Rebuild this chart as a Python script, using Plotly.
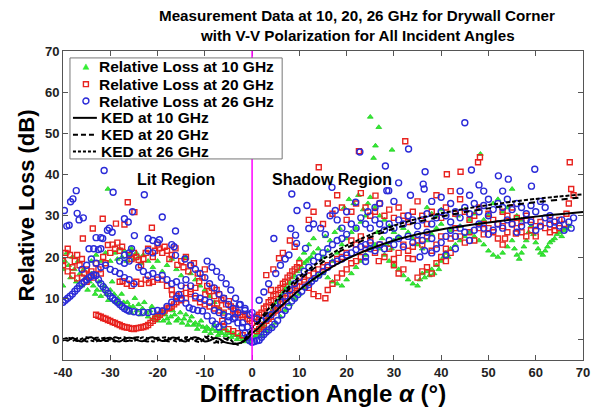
import plotly.graph_objects as go

# ---------------- data ----------------
pts10 = [
    # lit region, 10 GHz
    (-40,13),(-40,17),(-39.6,19),(-39.2,21),(-38.8,18),(-38.4,15),(-38,20),(-37.6,17),(-37.2,14),(-36.8,19),
    (-36.4,16),(-36,13),(-35.6,17),(-35.2,15),(-34.8,12),(-34.4,14),(-34,16),(-33.6,13),(-33.2,11),(-32.8,12),
    (-32.4,14),(-32,10.5),(-31.6,12),(-31.2,13),(-30.8,11),(-30.4,9.5),(-30,12),(-29.6,14),(-29.2,11),(-28.8,9),
    (-28.4,10),(-28,8.5),(-27.6,11),(-27.2,9),(-26.8,7.5),(-26.4,9),(-26,8),(-25.6,6.5),(-25.2,8),(-24.8,10),
    (-24.4,7),(-24,8.5),(-23.6,6),(-23.2,7.5),(-22.8,9),(-22.4,6.5),(-22,5.5),(-21.6,7),(-21.2,8),(-20.8,5),
    (-20.4,6),(-20,4.5),(-19.6,5.5),(-19.2,7),(-18.8,4.5),(-18.4,6),(-18,5),(-17.6,4),(-17.2,5.5),(-16.8,7),
    (-16.4,6),(-16,4.5),(-15.6,5),(-15.2,6.5),(-14.8,4),(-14.4,5),(-14,6),(-13.6,3.5),(-13.2,4.5),(-12.8,5.5),
    (-12.4,3.5),(-12,4),(-11.6,2.5),(-11.2,3.5),(-10.8,4.5),(-10.4,3),(-10,2),(-9.6,3),(-9.2,2.5),(-8.8,1.5),
    (-8.4,2.5),(-8,3.5),(-7.6,2),(-7.2,1),(-6.8,2),(-6.4,1.5),(-6,2.5),(-5.6,1),(-5.2,2),(-4.8,1.5),
    (-4.4,0.5),(-4,1.5),(-3.6,1),(-3.2,0),(-2.8,1),(-2.4,0.5),(-2,0),(-1.6,-0.5),(-1.2,0.5),(-0.8,0),(-0.4,-0.5),
    (-30,19),(-29,21),(-28.5,19.5),(-28,22),(-27.5,20),(-27,21.5),(-26.5,19),(-26,20.5),(-25.5,22),(-25,19.5),
    (-24.5,21),(-24,20),(-23.5,18.5),(-23,20.5),(-22,19),(-21,17.5),(-20,19),(-19,16.5),(-18,18),(-17,19.5),
    (-16,17),(-15,15.5),(-14,20),(-13,16),(-12,14.5),(-11,13),(-10,12),(-9,10.5),(-8,9),(-7,7.5),(-6,6.5),
    (-34,19),(-33,20.5),(-32,19),(-31,21),(-30.5,36.5),
    # shadow region, 10 GHz
    (0.4,0.5),(0.8,1),(1.2,1.5),(1.6,2.5),(2,3),(2.4,3.5),(2.8,4.5),(3.2,5),(3.6,6),(4,6.5),
    (4.4,7.5),(4.8,8),(5.2,9),(5.6,9.5),(6,10.5),(6.4,11),(6.8,12),(7.2,12.5),(7.6,13.5),(8,14),
    (8.5,15),(9,15.5),(9.5,16.5),(10,17),(10.5,17.5),(11,18.5),(11.5,19),(12,19.5),(12.5,20),(13,21),
    (2,1),(3,2),(4,3),(5,4),(6,5.5),(7,7),(8,8.5),(9,10),(10,11),(11,12.5),(12,13.5),(13,14.5),
    (14,15.5),(15,16),(16,15),(17,14),(18,13.5),(19,13),(20,14.5),(21,16),(22,17.5),(23,19),(24,20.5),(25,22),
    (14,22),(15,20),(16,21.5),(17,19),(18,21),(19,23),(20,24.5),(21,26),(22,27),(23,28.5),(24,30),
    (19.5,32),(20.5,34),(21.5,33),(22.5,35),(23.5,31.5),(24.5,33),(25,34.5),(26,32),(27,30),(28,29),(29,27.5),(30,26),
    (25,54),(26.8,51.5),(26.1,47),(29.6,46),(25.7,44),
    (26,23),(27,22),(28,20.5),(29,19),(30,18),(31,17),(32,15.5),(33,14.5),(34,13.5),(35,13),(35.5,14.5),
    (36,16),(36.5,15),(37,16.5),(37.5,15.5),(38,17),(38.5,16),(39,18),(39.5,17),(40,19),(40.5,20),(41,21),
    (41.5,20),(42,22),(43,23),(44,24),(45,25),(46,26),(47,25),(48,24),(49,23),(50,21.5),(51,20.5),(52,20),
    (53,21),(54,22.5),(55,24),(55.5,22),(56,20.5),(56.5,19.5),(57,21),(57.5,22.5),(58,24),(58.5,26),(59,27.5),
    (59.5,25.5),(60,23.5),(60.5,22),(61,21),(61.5,20.5),(62,21.5),(62.5,22.5),(63,23.5),(63.5,24),(64,24.5),
    (64.5,25.5),(65,26),(65.5,25),(66,26.5),(66.5,27),(67,27.5),
    (30,24),(31,25),(32,27),(33,26),(34,24.5),(35,23),(36,22),(37,24),(38,25.5),(39,27),(40,28),(42,26.5),
    (44,27.5),(46,29),(48,28),(50,30),(51,33),(52,34),(53,31),(54,32),(55,36.5),(56,30),(57,29),(43.5,30),
    (45,31.5),(47,30.5),(49,29),(26.5,26),(27.5,24.5),(28.5,23),(29.5,22),(15.5,25),(16.5,24),(17.5,26),
    (18.5,27),(12,23),(13,24.5),(11,21),(10,19.5),(37,32),(38,30.5),(39,30),(40,31.5),(48.3,45),
]

pts20 = [
    # lit region, 20 GHz
    (-40,19),(-39.5,21),(-39,22),(-38.5,20.5),(-38,17.5),(-37.5,19),(-37,20.5),(-36.5,18),(-36,19.5),(-35.5,16),
    (-35.8,24.5),(-35,17),(-34.5,15.5),(-34,16.5),(-33.7,26.9),(-33.5,15),(-33,18.5),(-32.5,17),(-32,16),(-31.6,29.3),
    (-31.5,20),(-31,18.5),(-30.5,22.9),(-30,21),(-29.5,23),(-29,22),(-28.8,28.1),(-28.5,23.5),(-28,21.5),(-27.5,22.5),
    (-27,27.9),(-26.3,33.3),(-26,20.5),(-25.5,19.5),(-25,21),(-24.9,30.9),(-24.5,20),(-24,19.3),(-23.5,18),(-23,19.5),
    (-22.5,21),(-22,22),(-21.2,27.1),(-21,20),(-20.5,21.5),(-20,23),(-19.7,22.1),(-19,21),(-18.5,22.5),(-18,21.5),
    (-17.5,19.5),(-17,20.5),(-16.2,22.1),(-15.8,18.1),(-15,19),(-14.5,17.5),(-14,20),(-13.5,16.5),(-13,18),(-12.3,18.5),
    (-11.5,16),(-11.2,14.1),(-10.5,15),(-10,17),(-9.5,13),(-9.1,11.7),(-8.5,12.5),(-8,10.5),(-7.5,12),(-7,11),
    (-6.5,9.5),(-6,10),(-5.5,8.5),(-4.9,9.3),(-4.5,8),(-4,7),(-3.5,7.5),(-3,6.5),(-2.5,6),(-2,5.5),
    (-1.5,6),(-1,5),(-0.5,4.5),(0,4),
    (-28,14),(-27.4,14.1),(-26.5,13.5),(-25.5,13),(-24.5,14),(-23.5,13.5),(-22.5,14.5),(-21.8,13.7),(-21,14),(-20,14.5),
    (-19,14.5),(-18,13),(-17,12),(-16.9,10.9),(-16,10.5),(-15,11),(-14,12.5),(-13,11.5),(-12,10),(-11,9),
    (-10,8.5),(-9,8),(-8,7.5),(-7,7),(-6,6.5),(-12,12.5),(-9.9,10.9),(-7.4,8.7),(-6.3,4.5),(-3.6,6.1),
    (-6,3),(-5,2.5),(-4,2),(-3,1.5),(-2,1),(-1,0.5),
    (-33,6),(-32.5,5.7),(-32,5.5),(-31.5,5.2),(-31,5),(-30.5,4.7),(-30,4.5),(-29.5,4.2),(-29,4),(-28.5,3.7),
    (-28,3.5),(-27.5,3.2),(-27,3),(-26.5,2.9),(-26,2.8),(-25.5,2.6),(-25,2.5),(-24.5,2.7),(-24,2.8),(-23.5,2.9),
    (-23,3),(-22.5,3.2),(-22,3.5),(-21.5,4),(-21,4.5),(-20.5,5),(-20,5.5),(-19.5,6),(-19,6.5),(-18.5,7),
    (-18,7.5),(-17.5,7.7),(-17,8),(-16.5,8.5),(-16,9),(-15,9.5),(-14,10),(-13,11),
    (-40,18),(-39,16.5),(-38,15.5),(-37,14.8),(-36,15),(-35,14),
    # shadow region, 20 GHz
    (0.5,5),(1,5.5),(1.5,6),(2,6.5),(2.5,7.5),(3,8),(3.5,9),(4,9.5),(4.5,10.5),(5,11),
    (5.5,12),(6,12.5),(6.5,13.5),(7,14),(7.5,15),(8,15.5),(8.5,16.5),(9,17),(9.5,17.5),(10,18.5),
    (1,2),(1.5,2.5),(2,3),(2.5,3.5),(3,4.5),(3.5,5),(4,5.5),(4.5,6.5),(5,7),(5.5,7.5),
    (6,8.5),(6.5,9),(7,10),(7.5,10.5),(8,11),(8.5,12),(9,12.5),(9.5,13),(10,14),(11,14.5),
    (12,15.5),(13,16),(14,17),(15,17.5),(16,18),(17,18.5),(18,19.5),(19,20),(20,21),
    (3,15.6),(4,12),(5.7,19.7),(4.5,17),(6.5,21),(8,24),(9,22.5),(11,14),(12,12.5),(13,11),
    (14,10.5),(15.5,10),(16,12),(17,13.5),(18,15),(19,16),(20,17),(21,18.5),(22,19),(23,20),
    (14.1,41.8),(22.6,45.7),(32.4,48.1),(48.2,44.2),(47.8,43),(41.2,40.1),(44.1,40.7),(67.2,43),(26.1,34.9),
    (12,29),(13,31),(15,28),(16,33),(17,30.5),(18,35),(19,32),(20,29),(21,31),(22,33),
    (23,35.5),(24,32),(25,30),(26,31),(27,33),(28,30),(29,31.5),(30,29.5),(31,32),(32,30),
    (33,28.5),(34,31),(35,33.5),(36,30),(37,28),(38,31),(39,35),(40,29.5),(41,32),(42,36),
    (43,30.5),(44,34),(45,31),(46,29),(47,30),(48,32),(49,28),(50,30.5),(51,29),(52,28),
    (53,31),(54,30),(55,32),(56,29.5),(57,28.5),(58,30),(59,29),(60,27.5),(61,28.5),(62,27),
    (63,29),(64,26.5),(65,27),(66,28),(67,33),(68,35),(67.5,36.5),(66.5,30.5),
    (21,24),(22,23),(23,25),(24,22),(25,24),(26,21),(27,23),(28,20),(29,22),(30,19.5),
    (31,21),(32,23),(33,21.5),(34,22.5),(35,24),(36,23),(37,25),(38,21.5),(39,23),(40,25),
    (41,22),(42,24.5),(43,27),(44,25),(45,23.5),(46,26),(47,24),(48,27),(49,25.5),(50,27),
    (51,26),(52,24.5),(53,27.5),(54,26),(55,28),(56,27),(57,26),(58,25),(59,26.5),(60,25),
    (53,23),(53.5,24.5),(55.8,25.7),(63,26),(64,27.5),(65,29),
    (35,15),(36,16.5),(37,17.5),(38,16),(39,18.5),(40,20),(41,19),(42,21),(34,19.5),(33,19.7),
    (32,17),(31,16),(30,18),(26.8,19),
]

pts26 = [
    # lit region, 26 GHz
    (-40,9),(-39.5,9.5),(-39,10),(-38.5,10.5),(-38,11),(-37.5,11.7),(-37,12.3),(-36.5,13),(-36,13.5),(-35.5,14),
    (-35,14.5),(-34.5,15),(-34,15.3),(-33.5,15.7),(-33,15.5),(-32.5,14.5),(-32,13.5),(-31.5,12.8),(-31,12),(-30.5,11.2),
    (-30,10.5),(-29.5,10),(-29,9.5),(-28.5,9),(-28,8.5),(-27.5,8),(-27,7.5),(-26.5,7.2),(-26,6.9),(-25,6.7),
    (-24,6.5),(-23,6.6),(-22,6.5),(-21,6.8),(-20,7),(-19,6.9),(-18,8),(-17,9),(-16,10),(-15.5,10.9),
    (-15,10),(-14,8.8),(-13.3,7.7),(-12.5,7.3),(-11.5,7),(-10.5,6.9),(-9.5,5.7),(-8.4,4.5),(-7.7,3.7),(-7,3),
    (-6,3.7),(-5,4.5),(-4,5),(-3.6,5.3),(-3,4),(-2.1,2.9),(-1.5,1.5),(-1,0.5),(-0.5,-0.3),(0,-0.7),
    (-31.3,41),(-37.2,36.1),(-29.4,35.7),(-22.8,35.1),(-37.9,34.1),(-38.4,33.4),(-39.7,31.3),(-37,30.6),(-36.6,29),(-35.7,29.5),
    (-38.7,27.7),(-39.2,27.5),(-27,29.3),(-26.2,28.5),(-25.3,31),(-19,29.7),(-30.2,27),(-29.6,26),(-30.6,26.5),(-16.2,26.3),
    (-24.9,25.2),(-22,24.5),(-21,24),(-20,23.5),(-19.6,24.2),(-16.5,22.5),(-17,23),(-33,24.7),(-32,24.7),(-31.6,24.5),
    (-34.5,22),(-33.5,22),(-32.5,21.8),(-32,22),(-26,21),(-25.5,22),(-27,20.5),(-22,21.5),(-21,21),(-16.2,20.4),
    (-28,19),(-27,18.5),(-26,19),(-14.2,19.5),(-13,18),(-12,17),
    (-11,16),(-10,15),(-9,13.5),(-8,12.5),(-7,11),(-6,10),(-5,8.5),(-4,7.5),(-3,6.5),
    (-9.5,19),(-8.5,17.5),(-7.5,16.5),(-6.5,15),(-5.5,13.5),(-4.5,12),(-3.5,10),(-2.5,8.5),(-1.5,7),(-0.5,6),
    (-24,17.5),(-23,16.5),(-22,15.5),(-21,16),(-20,15),(-19,15.5),(-18,14.5),(-17,13.5),(-16,14),(-15,13),
    (-14,14.5),(-13,13),(-36,17),(-35,18),(-34,19.5),(-33,18.5),(-32,17.5),(-31,18),(-30,17),(-29,16.5),
    (-28,16),(-27,15),(-26,14.5),(-25,13.5),
    (-8,7),(-7,6.5),(-6,6),(-5,5.5),(-12,10.5),(-11,10),(-10,9.5),(-9,9),(-1,3),(-2,4),
    # shadow region, 26 GHz
    (0.5,-0.5),(1,-0.3),(1.5,-0.2),(2,0.5),(2.5,1.2),(3,1.8),(3.5,2.3),(4.2,2.9),(4.8,3.7),(5.4,4.6),
    (6.3,6),(7,7),(7.7,8),(8.4,9.3),(9,10),(9.7,10.9),(10.5,11.7),(11.2,12.7),(12,13.3),(12.6,14.1),
    (13.3,14.8),(14.1,15.6),(15,16.5),(16,17.5),(17,18.5),(18,19),(19,19.5),(20,20.5),(21,21),(22,21.8),
    (23,22.5),(24,23),(25,23.5),
    (-2.7,8.4),(-1.5,7.5),(0,6.5),(1,5),(2,4.5),(3,5),(4,6),(5,7.5),(6,9),(7,10.5),
    (8,12),(9,13.5),(10,15),(11,16.5),(12,17.5),(13,19),(14,20),(15,21),(16,22),(17,23),
    (18,24),(19,24.5),(20,25.5),
    (8.4,35.3),(9.5,31.3),(11.6,32.5),(4.6,24.5),(8.2,26.9),(12,26.9),(9.2,25.3),(9.4,23.3),(7.8,20.5),(11.3,22.1),
    (17.6,31.3),(16.5,30),(21.9,33.3),(22.8,45.5),(28.2,42.1),(28.5,36.1),(33.1,46.2),(45,52.6),(36.6,40.7),(46.4,41.1),
    (59.8,41.3),(52.1,39.7),(54.2,38.9),(59.1,37.2),(36.2,37.7),(36.4,36.5),(28.9,36.1),(16.9,36.9),(13,28),(14.5,27),
    (15.5,25.5),(6,18),(7,19.5),(5,16),(3.5,13.5),(2.5,11.5),(1.5,9.5),
    (21,28),(22,27),(23,29.5),(24,28),(25,27),(26,29),(27,28),(28,26.5),(29,28),(30,27),
    (31,29),(32,28),(33,30),(34,29),(35,27.5),(36,29),(37,30.5),(38,28),(39,29.5),(40,31),
    (41,30),(42,28.5),(43,31),(44,29.5),(45,32),(46,30.5),(47,33),(48,31),(49,32.5),(50,30),
    (51,31.5),(52,33),(53,32),(54,34),(55,31.5),(56,33),(57,32),(58,30.5),(59,32.5),(60,31),
    (61,33.5),(62,32),(63,30),(64,28.5),(65,27.5),(66,26.5),(67,28.5),(68,29.5),(65.5,29),(67.5,27),
    (24,20),(25,22),(26,21.5),(27,23),(28,22),(29,24),(30,23),(31,24.5),(32,22.5),(33,25),
    (34,23.5),(35,25.5),(36,24),(37,26),(38,24.5),(39,22),(40,23.5),(41,25),(42,26.5),(43,25),
    (44,27),(45,26),(46,24),(47,26.5),(48,28),(49,27),(50,25.5),(51,26.5),(52,28),(53,27),
    (54,29),(55,28),(56,26),(57,27.5),(58,29),(59,28.5),(60,26.5),(61,27.5),(62,29.5),(63,28),
    (26,32),(30,33.5),(33.5,35),(38,33.5),(40,34.5),(42,33),(44,36),(46,35),(48,37.5),(49,36),
    (50,34),(53,36),(31,38),(19,27),(18,29),(20,31),(24.5,31),(27,33),(38,21),(41,20.5),
    (43,22),(35.5,20),(36.5,21.5),(24,18.9),
]

ked_x = [-40,-39,-38,-37,-36,-35,-34,-33,-32,-31,-30,-29,-28,-27,-26,-25,-24,-23,-22,-21,
         -20,-19,-18,-17,-16,-15,-14,-13,-12,-11,-10,-9,-8,-7,-6,-5,-4,-3,-2,-1,
         0,1,2,3,4,5,6,8,10,12,15,18,20,25,30,35,40,45,50,55,60,65,70]
ked10 = [0.2,-0.3,0.4,-0.2,-0.5,0.3,0.5,-0.1,-0.4,0.2,0.4,-0.3,-0.5,0.1,0.4,0.2,-0.3,-0.4,0.3,0.5,
         0.0,-0.4,-0.2,0.4,0.3,-0.3,-0.5,0.2,0.5,0.1,-0.5,-0.3,0.3,0.2,-0.6,-0.9,-1.1,-1.0,-0.6,0.2,
         1.5,2.4,3.5,4.6,5.7,6.8,7.9,10.0,12.0,13.8,16.2,18.3,19.5,22.0,24.0,25.5,26.7,27.6,28.4,29.1,29.8,30.4,30.9]
ked20 = [-0.3,0.2,-0.4,0.3,0.1,-0.5,-0.2,0.4,0.3,-0.4,-0.2,0.5,0.2,-0.4,-0.3,0.4,0.5,-0.2,-0.5,0.0,
         0.4,0.3,-0.4,-0.5,0.2,0.6,0.1,-0.6,-0.3,0.5,0.7,-0.2,-0.8,-0.4,0.3,-0.2,-0.9,-1.2,-0.7,0.6,
         2.5,3.6,4.9,6.2,7.5,8.8,10.0,12.4,14.5,16.3,18.8,21.0,22.2,24.8,26.9,28.5,29.8,30.9,31.8,32.6,33.3,33.9,34.5]
ked26 = [0.0,0.4,0.1,-0.4,0.2,0.5,-0.3,-0.5,0.2,0.4,-0.1,-0.5,0.3,0.5,-0.2,-0.4,0.1,0.5,0.2,-0.5,
         -0.3,0.4,0.5,-0.1,-0.5,-0.2,0.5,0.4,-0.4,-0.6,0.3,0.8,0.0,-0.9,-0.5,0.4,-0.7,-1.3,-0.5,0.9,
         2.8,4.0,5.4,6.8,8.1,9.4,10.7,13.1,15.2,17.0,19.5,21.6,22.8,25.4,27.6,29.3,30.6,31.7,32.6,33.4,34.1,34.7,35.2]

x_ticks = [-40, -30, -20, -10, 0, 10, 20, 30, 40, 50, 60, 70]
y_ticks = [0, 10, 20, 30, 40, 50, 60, 70]

title_lines = ["Measurement Data at 10, 20, 26 GHz for Drywall Corner",
               "with V-V Polarization for All Incident Angles"]
series_names = ["Relative Loss at 10 GHz", "Relative Loss at 20 GHz", "Relative Loss at 26 GHz",
                "KED at 10 GHz", "KED at 20 GHz", "KED at 26 GHz"]

FONT = "Liberation Sans, Arial, Helvetica, sans-serif"
C10, C20, C26 = "#33ee33", "#e8231f", "#2a2ad8"

# plot-area geometry in page pixels (used only to place the hand-made legend box)
PL, PR, PT, PB = 63, 585, 51, 363


def px(x):
    return (x - PL) / (PR - PL)


def py(y):
    return (PB - y) / (PB - PT)


def xs(p):
    return [a for a, b in p]


def ys(p):
    return [b for a, b in p]


fig = go.Figure()
fig.add_trace(go.Scatter(
    x=xs(pts10), y=ys(pts10), mode="markers", name=series_names[0], showlegend=False,
    marker=dict(symbol="triangle-up", size=5, color=C10, line=dict(width=0.8, color="#22cc22"))))
fig.add_trace(go.Scatter(
    x=xs(pts20), y=ys(pts20), mode="markers", name=series_names[1], showlegend=False,
    marker=dict(symbol="square-open", size=5, color=C20, line=dict(width=1.4))))
fig.add_trace(go.Scatter(
    x=xs(pts26), y=ys(pts26), mode="markers", name=series_names[2], showlegend=False,
    marker=dict(symbol="circle-open", size=6, color=C26, line=dict(width=1.4))))
fig.add_trace(go.Scatter(
    x=ked_x, y=ked10, mode="lines", name=series_names[3], showlegend=False,
    line=dict(color="black", width=2, shape="spline", smoothing=0.6)))
fig.add_trace(go.Scatter(
    x=ked_x, y=ked20, mode="lines", name=series_names[4], showlegend=False,
    line=dict(color="black", width=2, dash="6px,5px", shape="spline", smoothing=0.6)))
fig.add_trace(go.Scatter(
    x=ked_x, y=ked26, mode="lines", name=series_names[5], showlegend=False,
    line=dict(color="black", width=2, dash="4px,2px", shape="spline", smoothing=0.6)))

fig.add_shape(type="line", x0=0, x1=0, y0=0, y1=1, xref="x", yref="paper",
              line=dict(color="#ff00ff", width=1.5), layer="above")

# ---- compact legend box (MATLAB style) ----
fig.add_shape(type="rect", xref="paper", yref="paper", x0=px(70), x1=px(283), y0=py(160), y1=py(58),
              line=dict(color="#777777", width=1), fillcolor="white", layer="above")
row_y = [67, 84.5, 101.5, 118.5, 135.5, 152.5]
fig.add_shape(type="path", xref="paper", yref="paper", layer="above",
              path="M {:.4f} {:.4f} L {:.4f} {:.4f} L {:.4f} {:.4f} Z".format(
                  px(83), py(row_y[0] + 2.5), px(89), py(row_y[0] + 2.5), px(86), py(row_y[0] - 3)),
              fillcolor=C10, line=dict(color=C10, width=0.5))
fig.add_shape(type="rect", xref="paper", yref="paper", layer="above",
              x0=px(83.5), x1=px(88.5), y0=py(row_y[1] + 2.5), y1=py(row_y[1] - 2.5),
              line=dict(color=C20, width=1.4), fillcolor="rgba(0,0,0,0)")
fig.add_shape(type="circle", xref="paper", yref="paper", layer="above",
              x0=px(83), x1=px(89), y0=py(row_y[2] + 3), y1=py(row_y[2] - 3),
              line=dict(color=C26, width=1.4), fillcolor="rgba(0,0,0,0)")
for i, dash in zip(range(3, 6), ["solid", "5px,3px", "3px,2px"]):
    fig.add_shape(type="line", xref="paper", yref="paper", layer="above",
                  x0=px(73), x1=px(97), y0=py(row_y[i]), y1=py(row_y[i]),
                  line=dict(color="black", width=2, dash=dash))
for i, name in enumerate(series_names):
    fig.add_annotation(x=px(97 if i < 3 else 99), y=py(row_y[i]), xref="paper", yref="paper",
                       xanchor="left", yanchor="middle", text=name, showarrow=False,
                       font=dict(family=FONT, size=15.5, color="black", weight="bold"))

fig.add_annotation(x=-16.2, y=38.9, text="Lit Region", showarrow=False,
                   font=dict(family=FONT, size=16, color="black", weight="bold"))
fig.add_annotation(x=17, y=38.9, text="Shadow Region", showarrow=False,
                   font=dict(family=FONT, size=16, color="black", weight="bold"))

# two-line title
fig.add_annotation(x=0.565, y=py(15), xref="paper", yref="paper", xanchor="center", yanchor="middle",
                   text=title_lines[0], showarrow=False,
                   font=dict(family=FONT, size=15.2, color="black", weight="bold"))
fig.add_annotation(x=0.567, y=py(35), xref="paper", yref="paper", xanchor="center", yanchor="middle",
                   text=title_lines[1], showarrow=False,
                   font=dict(family=FONT, size=15.2, color="black", weight="bold"))

axis_common = dict(showgrid=False, zeroline=False, showline=True, linecolor="#555555",
                   linewidth=1, mirror="ticks", ticks="inside", ticklen=5, tickcolor="#555555",
                   tickfont=dict(family=FONT, size=13, color="#222222", weight="bold"))

fig.update_layout(
    width=602, height=408,
    margin=dict(l=PL, r=602 - PR, t=PT, b=408 - PB),
    paper_bgcolor="white", plot_bgcolor="white",
    xaxis=dict(range=[-40, 70], tickvals=x_ticks, ticktext=[str(v) for v in x_ticks],
               title=dict(text="Diffraction Angle <i>α</i> (°)", standoff=0,
                          font=dict(family=FONT, size=24, color="black", weight="bold")),
               **axis_common),
    yaxis=dict(range=[-5, 70], tickvals=y_ticks, ticktext=[str(v) for v in y_ticks],
               title=dict(text="Relative Loss (dB)", standoff=4,
                          font=dict(family=FONT, size=22, color="black", weight="bold")),
               **axis_common),
    showlegend=False,
)

fig.write_html("out.html")
